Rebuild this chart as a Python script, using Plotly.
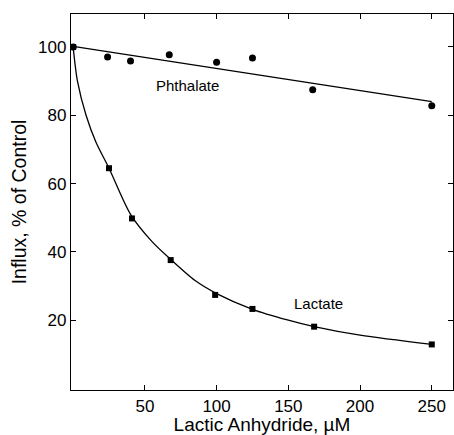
import plotly.graph_objects as go

# Phthalate data (circles)
phth_x = [0, 24, 40, 67, 100, 125, 167, 250]
phth_y = [100, 97.1, 95.9, 97.7, 95.5, 96.8, 87.5, 82.8]
# Phthalate fitted line
phth_fit_x = [0, 250]
phth_fit_y = [100.2, 84.0]

# Lactate data (squares)
lact_x = [0, 25, 41, 68, 99, 125, 168, 250]
lact_y = [100, 64.5, 49.8, 37.6, 27.4, 23.3, 18.1, 12.9]
# Lactate fitted curve
lact_fit_x = [0, 3, 9, 16, 25, 40, 55, 68, 85, 100, 125, 150, 168, 200, 250]
lact_fit_y = [100, 90, 80, 72, 64.5, 51, 43, 37.8, 31.6, 27.8, 23.2, 20.0, 18.1, 15.6, 12.9]

x_ticks = [50, 100, 150, 200, 250]
y_ticks = [20, 40, 60, 80, 100]

FONT = "Liberation Sans"

fig = go.Figure()
fig.add_trace(go.Scatter(x=phth_fit_x, y=phth_fit_y, mode="lines",
                         line=dict(color="black", width=1.3), showlegend=False))
fig.add_trace(go.Scatter(x=lact_fit_x, y=lact_fit_y, mode="lines",
                         line=dict(color="black", width=1.3, shape="spline", smoothing=0.8),
                         showlegend=False))
fig.add_trace(go.Scatter(x=phth_x, y=phth_y, mode="markers",
                         marker=dict(symbol="circle", size=7, color="black"), showlegend=False))
fig.add_trace(go.Scatter(x=lact_x, y=lact_y, mode="markers",
                         marker=dict(symbol="square", size=6, color="black"), showlegend=False))

fig.add_annotation(x=80, y=88.6, text="Phthalate", showarrow=False,
                   font=dict(size=15, color="black", family=FONT))
fig.add_annotation(x=171, y=25.0, text="Lactate", showarrow=False,
                   font=dict(size=15, color="black", family=FONT))

axis_common = dict(showgrid=False, zeroline=False, showline=True, linecolor="black",
                   linewidth=1.3, mirror="ticks", ticks="inside", ticklen=5,
                   tickcolor="black", tickwidth=1.2,
                   tickfont=dict(size=17, color="black", family=FONT))

fig.update_layout(
    width=454, height=435,
    margin=dict(l=71, r=1, t=14, b=45),
    paper_bgcolor="white", plot_bgcolor="white",
    xaxis=dict(range=[-1.5, 264.8], tickvals=x_ticks,
               title=dict(text="Lactic Anhydride, \u00b5M", standoff=3,
                          font=dict(size=19, color="black", family=FONT)),
               **axis_common),
    yaxis=dict(range=[-0.44, 109.66], tickvals=y_ticks,
               title=dict(text="Influx, % of Control", standoff=6,
                          font=dict(size=19.5, color="black", family=FONT)),
               **axis_common),
)

fig.write_html("out.html")
